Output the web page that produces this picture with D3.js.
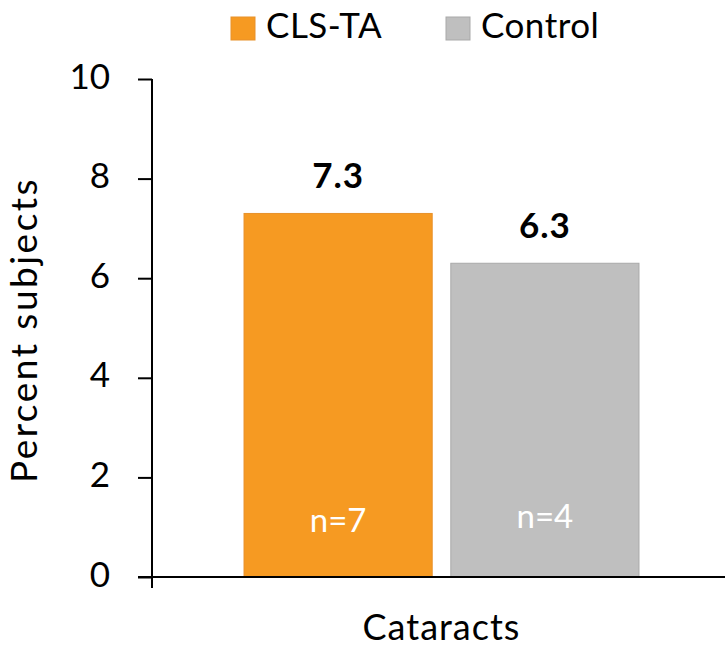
<!DOCTYPE html>
<html>
<head>
<meta charset="utf-8">
<script src="https://cdn.jsdelivr.net/npm/d3@7"></script>
<style>
  body { margin: 0; background: #fff; }
  svg { display: block; font-family: Lato, "Open Sans", sans-serif; }
</style>
</head>
<body>
<svg id="chart" width="725" height="649"></svg>
<script>
const categories = ["Cataracts"];
const series = ["CLS-TA", "Control"];
const values = [7.3, 6.3];
const counts = ["n=7", "n=4"];
const colors = ["#F69A22", "#BFBFBF"];
const strokes = ["#E8912A", "#A9A9A9"];
const yTicks = [0, 2, 4, 6, 8, 10];

const svg = d3.select("#chart");
const plotLeft = 152, plotRight = 731, plotTop = 79, plotBottom = 577;
const font = "Lato, 'Open Sans', sans-serif";

const y = d3.scaleLinear().domain([0, 10]).range([plotBottom, plotTop]);
const x0 = d3.scaleBand().domain(categories).range([plotLeft, plotRight]).paddingOuter(0.233);
const x1 = d3.scaleBand().domain(series).range([0, x0.bandwidth()]).paddingInner(0.09);

// bars
const g = svg.append("g");
categories.forEach(cat => {
  series.forEach((s, i) => {
    const bx = x0(cat) + x1(s);
    g.append("rect")
      .attr("x", bx).attr("y", y(values[i]))
      .attr("width", x1.bandwidth()).attr("height", y(0) - y(values[i]))
      .attr("fill", colors[i]).attr("stroke", strokes[i]).attr("stroke-width", 1);
    g.append("text")
      .attr("x", bx + x1.bandwidth() / 2).attr("y", y(values[i]) - 25)
      .attr("text-anchor", "middle").attr("font-size", 35).attr("font-weight", "bold")
      .attr("letter-spacing", 1).attr("fill", "#000").text(values[i].toFixed(1));
    g.append("text")
      .attr("x", bx + x1.bandwidth() / 2).attr("y", 532 - i * 4)
      .attr("text-anchor", "middle").attr("font-size", 33)
      .attr("fill", "#fff").text(counts[i]);
  });
});

// y axis
const yAxis = d3.axisLeft(y).tickValues(yTicks).tickSize(14).tickPadding(28);
const ya = svg.append("g").attr("transform", `translate(${plotLeft},0)`).call(yAxis);
ya.select(".domain").attr("d", `M0,${plotTop}V${plotBottom + 11}`).attr("stroke", "#000").attr("stroke-width", 2);
ya.selectAll(".tick line").attr("stroke", "#000").attr("stroke-width", 2);
ya.selectAll(".tick text").attr("font-size", 35).attr("font-family", font).attr("fill", "#000").attr("dy", "0.26em");

// x axis baseline
const xAxis = d3.axisBottom(x0).tickSize(0).tickPadding(37);
const xa = svg.append("g").attr("transform", `translate(0,${plotBottom})`).call(xAxis);
xa.select(".domain").attr("d", `M${plotLeft - 14},0H725`).attr("stroke", "#000").attr("stroke-width", 2);
xa.selectAll(".tick text").attr("font-size", 36).attr("letter-spacing", 1).attr("font-family", font).attr("fill", "#000");

// y label
svg.append("text")
  .attr("transform", `translate(37,330) rotate(-90)`)
  .attr("text-anchor", "middle").attr("font-size", 37).attr("letter-spacing", 2.5).attr("fill", "#000")
  .text("Percent subjects");

// legend
const legendX = [231, 446];
series.forEach((s, i) => {
  svg.append("rect").attr("x", legendX[i]).attr("y", 17).attr("width", 24).attr("height", 23)
    .attr("fill", colors[i]).attr("stroke", strokes[i]);
  svg.append("text").attr("x", legendX[i] + 35).attr("y", 38)
    .attr("font-size", 35).attr("letter-spacing", 0.5).attr("fill", "#000").text(s);
});
</script>
</body>
</html>
